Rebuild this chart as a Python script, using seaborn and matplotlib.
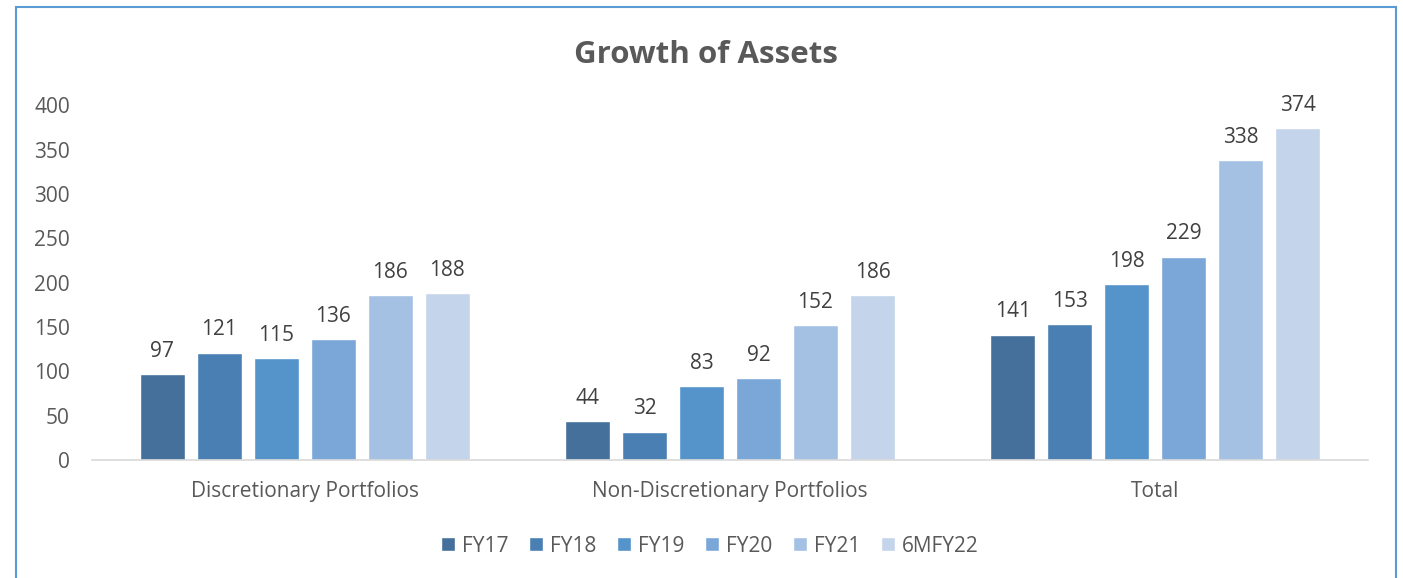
import pandas as pd
import seaborn as sns
import matplotlib.pyplot as plt
from matplotlib.patches import Rectangle

categories = ["Discretionary Portfolios", "Non-Discretionary Portfolios", "Total"]
years = ["FY17", "FY18", "FY19", "FY20", "FY21", "6MFY22"]
fy17 = [97, 44, 141]
fy18 = [121, 32, 153]
fy19 = [115, 83, 198]
fy20 = [136, 92, 229]
fy21 = [186, 152, 338]
fy22 = [188, 186, 374]
colors = ["#44709B", "#4A7FB3", "#5593CB", "#7AA7D8", "#A4C1E4", "#C4D4EA"]

rows = []
for yr, vals in zip(years, [fy17, fy18, fy19, fy20, fy21, fy22]):
    for cat, v in zip(categories, vals):
        rows.append({"category": cat, "year": yr, "value": v})
df = pd.DataFrame(rows)

sns.set_style("white")
plt.rcParams["font.family"] = ["Open Sans", "DejaVu Sans"]

fig = plt.figure(figsize=(14.03, 5.78), dpi=100)
ax = fig.add_axes([0.0656, 0.204, 0.9094, 0.614])

sns.barplot(data=df, x="category", y="value", hue="year", hue_order=years,
            palette=colors, width=0.804, gap=0.21, saturation=1, ax=ax,
            legend=True)

for cont in ax.containers:
    ax.bar_label(cont, padding=9, fontsize=15, color="#404040")

ax.set_ylim(0, 400)
ax.set_xlim(-0.5, 2.5)
ax.set_yticks(range(0, 401, 50))
ax.set_xlabel("")
ax.set_ylabel("")
ax.tick_params(axis="both", length=0, labelsize=15, colors="#595959")
ax.tick_params(axis="x", pad=15)
ax.tick_params(axis="y", pad=16)
for s in ["top", "right", "left"]:
    ax.spines[s].set_visible(False)
ax.spines["bottom"].set_color("#D9D9D9")
ax.spines["bottom"].set_linewidth(1.2)

leg = ax.legend(loc="center", ncol=6, frameon=False, fontsize=15,
                handlelength=0.65, handleheight=0.65, handletextpad=0.35,
                columnspacing=1.0)
leg.set_bbox_to_anchor((0.506, 0.055), transform=fig.transFigure)
for t in leg.get_texts():
    t.set_color("#595959")

fig.text(0.503, 0.905, "Growth of Assets", ha="center", va="center",
         fontsize=22.5, fontweight="bold", color="#595959")

fig.patches.append(Rectangle((16 / 1403, -0.1), 1380 / 1403, 1.1 - 7 / 578,
                             transform=fig.transFigure, fill=False,
                             edgecolor="#5B9BD5", linewidth=1.5))

fig.savefig("out.png", dpi=100)
